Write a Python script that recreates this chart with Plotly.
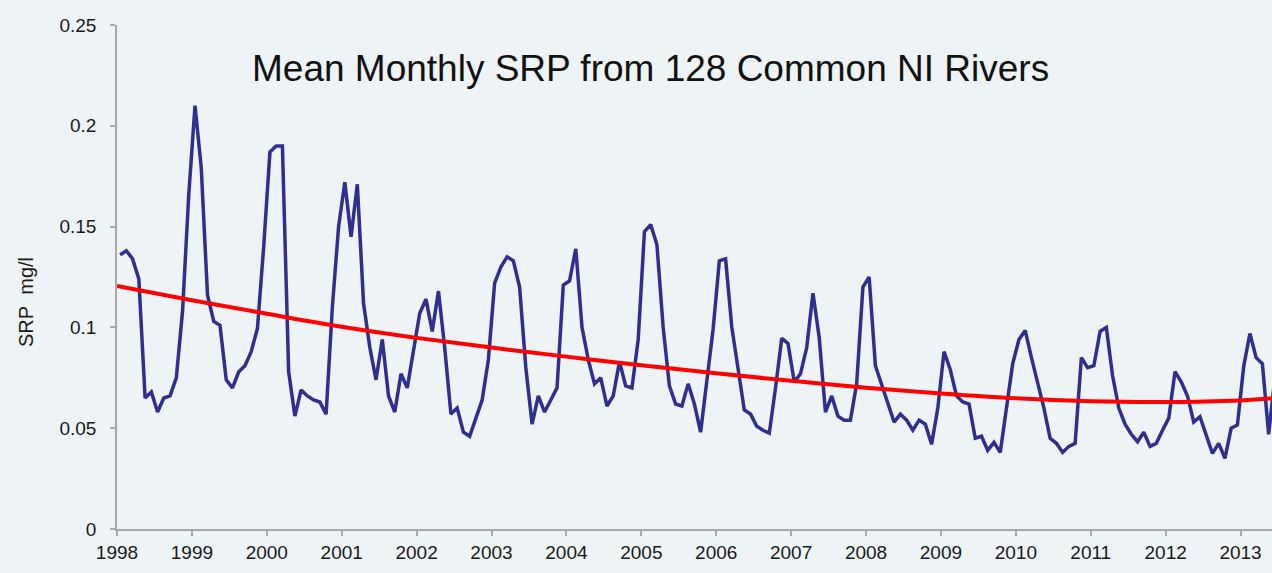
import plotly.graph_objects as go

start_year = 1998

# Mean monthly SRP (mg/l), Jan 1998 .. Jun 2013
srp_1998 = [0.136, 0.138, 0.134, 0.124, 0.065, 0.068, 0.058, 0.065, 0.066, 0.075, 0.108, 0.166]
srp_1999 = [0.210, 0.179, 0.116, 0.103, 0.101, 0.074, 0.070, 0.078, 0.081, 0.088, 0.0995, 0.140]
srp_2000 = [0.187, 0.190, 0.190, 0.078, 0.056, 0.069, 0.066, 0.064, 0.063, 0.057, 0.110, 0.150]
srp_2001 = [0.172, 0.145, 0.171, 0.112, 0.090, 0.074, 0.094, 0.066, 0.058, 0.077, 0.070, 0.088]
srp_2002 = [0.107, 0.114, 0.098, 0.118, 0.090, 0.057, 0.060, 0.048, 0.046, 0.055, 0.064, 0.084]
srp_2003 = [0.122, 0.130, 0.135, 0.133, 0.120, 0.080, 0.052, 0.066, 0.058, 0.064, 0.070, 0.121]
srp_2004 = [0.123, 0.139, 0.100, 0.084, 0.072, 0.075, 0.061, 0.066, 0.083, 0.071, 0.070, 0.094]
srp_2005 = [0.1475, 0.151, 0.141, 0.100, 0.071, 0.062, 0.061, 0.072, 0.062, 0.048, 0.072, 0.099]
srp_2006 = [0.133, 0.134, 0.100, 0.080, 0.059, 0.057, 0.051, 0.049, 0.0475, 0.070, 0.0946, 0.092]
srp_2007 = [0.073, 0.077, 0.090, 0.117, 0.095, 0.058, 0.066, 0.056, 0.054, 0.054, 0.072, 0.120]
srp_2008 = [0.125, 0.081, 0.072, 0.063, 0.053, 0.057, 0.054, 0.049, 0.054, 0.052, 0.042, 0.060]
srp_2009 = [0.088, 0.079, 0.066, 0.063, 0.062, 0.045, 0.046, 0.039, 0.043, 0.038, 0.060, 0.082]
srp_2010 = [0.094, 0.0985, 0.085, 0.072, 0.060, 0.045, 0.0425, 0.038, 0.041, 0.0425, 0.085, 0.080]
srp_2011 = [0.081, 0.098, 0.100, 0.076, 0.060, 0.052, 0.047, 0.0433, 0.048, 0.041, 0.0425, 0.049]
srp_2012 = [0.055, 0.078, 0.073, 0.066, 0.053, 0.0557, 0.047, 0.0375, 0.0425, 0.035, 0.050, 0.0516]
srp_2013 = [0.0805, 0.097, 0.085, 0.082, 0.047, 0.075]

# Trend line (red) read at the year ticks
trend_years = [1998, 1999, 2000, 2001, 2002, 2003, 2004, 2005, 2006, 2007,
               2008, 2009, 2010, 2011, 2012, 2013, 2013.42]
trend_vals = [0.1205, 0.1135, 0.1068, 0.1003, 0.0948, 0.0900, 0.0855, 0.0812, 0.0772, 0.0735,
              0.0701, 0.0672, 0.0648, 0.0634, 0.0630, 0.0638, 0.0648]

year_ticks = list(range(1998, 2014))
year_labels = [str(y) for y in year_ticks]
y_ticks = [0, 0.05, 0.1, 0.15, 0.2, 0.25]
y_labels = ["0", "0.05", "0.1", "0.15", "0.2", "0.25"]

title_text = "Mean Monthly SRP from 128 Common NI Rivers"
y_title = "SRP\u00a0\u00a0mg/l"

srp = (srp_1998 + srp_1999 + srp_2000 + srp_2001 + srp_2002 + srp_2003 + srp_2004 + srp_2005
       + srp_2006 + srp_2007 + srp_2008 + srp_2009 + srp_2010 + srp_2011 + srp_2012 + srp_2013)
months_x = [start_year + (i + 0.5) / 12 for i in range(len(srp))]

fig = go.Figure()
fig.add_trace(go.Scatter(x=months_x, y=srp, mode="lines",
                         line=dict(color="#2e2f8f", width=3.5), showlegend=False, hoverinfo="skip"))
fig.add_trace(go.Scatter(x=trend_years, y=trend_vals, mode="lines",
                         line=dict(color="#ff0000", width=4, shape="spline", smoothing=1.0),
                         showlegend=False, hoverinfo="skip"))

bg = "#eef3f5"
axis_col = "#a8a8a8"
W, H = 1272, 573
L, R, T, B = 117, 0, 25, 44
PW, PH = W - L - R, H - T - B


def px_x(px):
    return (px - L) / PW


def px_y(py):
    return (H - B - py) / PH


fig.update_layout(
    width=W, height=H,
    margin=dict(l=L, r=R, t=T, b=B),
    paper_bgcolor=bg,
    plot_bgcolor="rgba(0,0,0,0)",
    font=dict(family="Liberation Sans, Arial, sans-serif", color="#1a1a1a"),
    xaxis=dict(range=[1998, 2013.42], tickmode="array", tickvals=year_ticks, ticktext=year_labels,
               showgrid=False, zeroline=False, showline=True, linecolor=axis_col, linewidth=1.5,
               ticks="outside", ticklen=5, tickcolor=axis_col, tickwidth=1.5,
               tickfont=dict(size=19, color="#1a1a1a")),
    yaxis=dict(range=[0, 0.25], tickmode="array", tickvals=y_ticks, ticktext=y_labels,
               showgrid=False, zeroline=False, showline=True, linecolor=axis_col, linewidth=1.5,
               ticks="outside", ticklen=5, tickcolor=axis_col, tickwidth=1.5,
               tickfont=dict(size=19, color="#1a1a1a"), ticklabelstandoff=10),
    annotations=[
        dict(text=title_text, showarrow=False, xref="paper", yref="paper",
             xanchor="center", yanchor="middle", x=px_x(650), y=px_y(68),
             font=dict(size=37, color="#111111")),
        dict(text=y_title, showarrow=False, xref="paper", yref="paper", textangle=-90,
             xanchor="center", yanchor="middle", x=px_x(26), y=px_y(302),
             font=dict(size=20, color="#1a1a1a")),
    ],
)

fig.write_html(
    "out.html",
    config={"displayModeBar": False},
    post_script=("document.documentElement.style.overflow='hidden';"
                 "document.body.style.overflow='hidden';"
                 "document.body.style.margin='0';"
                 "document.body.style.background='" + bg + "';"),
)
